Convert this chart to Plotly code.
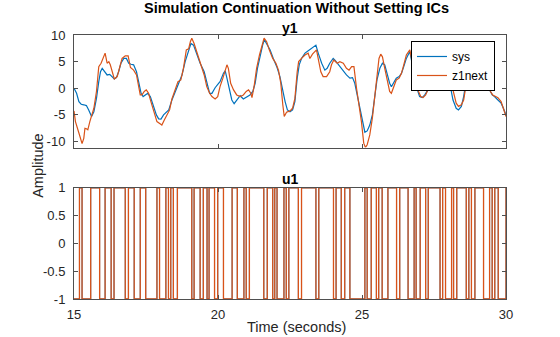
import plotly.graph_objects as go

# ---------------- data ----------------
sys_t = [15.00, 15.09, 15.17, 15.25, 15.34, 15.43, 15.51, 15.61, 15.69, 15.78, 15.86, 15.92, 15.98,
         16.07, 16.15, 16.24, 16.32, 16.40, 16.47, 16.55, 16.63, 16.73, 16.82, 16.90, 16.98, 17.07,
         17.17, 17.25, 17.33, 17.40, 17.48, 17.56, 17.65, 17.77, 17.86, 17.94, 18.02, 18.11, 18.20,
         18.29, 18.40, 18.52, 18.63, 18.75, 18.86, 18.98, 19.06, 19.15, 19.27, 19.38, 19.52, 19.62,
         19.71, 19.79, 19.90, 20.02, 20.07, 20.19, 20.25, 20.31, 20.40, 20.48, 20.56, 20.65, 20.77,
         20.88, 21.00, 21.11, 21.21, 21.29, 21.37, 21.46, 21.55, 21.61, 21.69, 21.81, 21.92, 22.04,
         22.15, 22.25, 22.33, 22.41, 22.50, 22.59, 22.67, 22.75, 22.82, 22.90, 23.02, 23.17, 23.25,
         23.33, 23.40, 23.48, 23.60, 23.71, 23.79, 23.88, 24.00, 24.06, 24.17, 24.29, 24.46, 24.58,
         24.67, 24.75, 24.83, 24.92, 25.02, 25.10, 25.18, 25.27, 25.36, 25.44, 25.52, 25.62, 25.71,
         25.79, 25.87, 25.96, 26.02, 26.10, 26.19, 26.29, 26.37, 26.45, 26.54, 26.66, 26.75, 26.83,
         26.91, 27.00, 27.09, 27.18, 27.29, 27.38, 27.46, 27.52, 27.64, 27.75, 27.87, 27.98, 28.07,
         28.16, 28.27, 28.35, 28.45, 28.53, 28.62, 28.68, 28.79, 28.97, 29.14, 29.25, 29.34, 29.43,
         29.52, 29.60, 29.72, 29.83, 29.91, 30.00]
sys_y = [0.0, -0.94, -2.5, -3.0, -3.1, -3.25, -4.06, -5.3, -4.4, -1.9, 1.25, 3.1, 3.75,
         3.1, 2.5, 2.6, 2.2, 1.75, 2.0, 3.1, 4.7, 5.6, 5.6, 4.7, 4.5, 4.4,
         3.1, 1.25, -0.94, -1.56, -1.25, -0.94, -1.56, -3.4, -5.0, -5.75, -5.8, -5.0, -4.56,
         -4.06, -2.2, -0.6, 0.94, 2.5, 5.0, 7.2, 8.4, 8.1, 6.25, 4.7, 3.1, 0.94,
         -0.94, -0.94, 0.1, 0.94, 1.25, 2.8, 3.25, 1.9, -0.6, -2.2, -2.9, -2.2, -1.4,
         -2.0, -1.56, -1.25, -0.6, 0.94, 3.75, 6.25, 8.1, 9.1, 8.4, 7.2, 5.6, 4.06,
         2.2, -0.6, -2.5, -4.06, -4.4, -4.06, -2.5, 1.9, 4.4, 5.6, 6.6, 7.2, 7.5,
         7.8, 8.1, 6.6, 4.7, 3.4, 3.75, 4.7, 5.6, 5.3, 4.5, 3.75, 2.5, 1.9,
         2.0, 0.94, -1.25, -3.75, -6.25, -8.25, -8.0, -6.9, -5.0, -1.9, 1.56, 3.75, 4.7,
         4.4, 2.5, 0.94, 0.3, 0.94, 1.9, 2.2, 2.8, 4.06, 5.6, 6.9, 4.4, 1.25,
         -0.3, -1.56, -1.75, -1.25, -0.3, 1.25, 2.5, 2.8, 5.0, 5.9, 5.0, 2.8, 0.0,
         -2.2, -3.75, -4.06, -3.4, -1.56, 1.56, 2.8, 5.6, 6.6, 5.0, 2.8, 1.25, -0.3,
         -1.25, -1.56, -2.2, -2.8, -3.75, -5.0]

z1_t = [15.00, 15.05, 15.17, 15.25, 15.28, 15.34, 15.38, 15.43, 15.48, 15.55, 15.63, 15.69, 15.78,
        15.86, 15.94, 16.03, 16.08, 16.15, 16.21, 16.26, 16.32, 16.40, 16.50, 16.59, 16.67, 16.78,
        16.88, 16.96, 17.07, 17.17, 17.25, 17.30, 17.36, 17.44, 17.51, 17.59, 17.67, 17.79, 17.88,
        18.00, 18.05, 18.14, 18.23, 18.32, 18.40, 18.52, 18.61, 18.71, 18.80, 18.90, 18.98, 19.04,
        19.09, 19.17, 19.29, 19.41, 19.52, 19.61, 19.71, 19.79, 19.90, 19.99, 20.07, 20.17, 20.25,
        20.31, 20.36, 20.44, 20.54, 20.65, 20.77, 20.88, 20.98, 21.06, 21.14, 21.18, 21.26, 21.34,
        21.44, 21.52, 21.60, 21.69, 21.78, 21.90, 22.01, 22.10, 22.18, 22.25, 22.30, 22.38, 22.50,
        22.59, 22.67, 22.75, 22.80, 22.90, 23.02, 23.13, 23.19, 23.28, 23.36, 23.42, 23.50, 23.57,
        23.65, 23.77, 23.88, 23.94, 24.02, 24.14, 24.23, 24.35, 24.46, 24.55, 24.64, 24.72, 24.81,
        24.90, 24.98, 25.06, 25.12, 25.18, 25.27, 25.36, 25.44, 25.52, 25.59, 25.65, 25.71, 25.79,
        25.87, 25.96, 26.02, 26.10, 26.19, 26.29, 26.37, 26.45, 26.54, 26.66, 26.74, 26.80, 26.86,
        26.94, 27.04, 27.12, 27.21, 27.29, 27.37, 27.44, 27.49, 27.60, 27.75, 27.90, 28.02, 28.10,
        28.18, 28.27, 28.35, 28.45, 28.53, 28.62, 28.68, 28.83, 28.99, 29.15, 29.29, 29.37, 29.46,
        29.54, 29.63, 29.72, 29.83, 29.91, 30.00]
z1_y = [-4.25, -6.25, -8.4, -10.1, -10.4, -9.4, -7.5, -7.6, -7.8, -6.25, -4.7, -3.75, -0.6,
        4.06, 4.7, 5.9, 6.6, 4.7, 5.0, 4.4, 3.4, 1.75, 2.2, 3.75, 5.6, 6.1,
        6.1, 3.9, 3.4, 2.5, 0.3, -1.25, -1.25, -0.6, -0.3, -0.94, -2.5, -4.4, -6.25,
        -6.7, -6.9, -5.9, -5.1, -4.06, -2.0, -0.3, 1.25, 1.56, 3.75, 7.2, 7.4, 8.75,
        9.4, 8.4, 6.25, 4.5, 2.5, 0.3, -0.94, -1.56, -2.0, -1.56, 0.3, 1.9, 3.1,
        4.4, 3.75, 0.94, -0.3, -1.25, -1.56, -1.25, -0.6, -0.3, -0.94, -1.75, 0.6, 3.75,
        6.25, 8.1, 9.4, 8.75, 7.2, 5.6, 4.7, 3.4, 0.94, -3.1, -5.3, -4.5, -4.25,
        -3.75, -1.9, 3.1, 5.0, 5.6, 6.25, 6.6, 5.6, 6.4, 6.9, 7.2, 5.0, 3.1,
        2.2, 2.2, 3.1, 4.4, 5.3, 4.7, 5.0, 4.7, 3.75, 3.4, 4.06, 4.06, 0.0,
        -3.1, -6.25, -10.3, -11.1, -10.6, -8.75, -5.6, -1.56, 2.8, 5.6, 6.4, 5.9, 3.75,
        1.9, -0.6, -0.94, 0.3, 1.56, 1.9, 2.8, 4.4, 6.25, 7.2, 5.0, 3.1, 1.56,
        -0.3, -1.56, -1.75, -1.25, -0.3, 0.94, 1.56, 3.1, 5.3, 6.25, 4.7, 2.8, 0.94,
        -1.25, -2.8, -3.4, -3.1, -2.2, 0.6, 2.8, 5.9, 6.9, 4.7, 2.5, 0.6, -0.6,
        -1.25, -1.56, -1.75, -2.5, -4.06, -5.3]

# u1: binary input (+1 / -1), starting at -1, switching at these times
u_start = -1
u_switch_t = [15.19, 15.28, 15.58, 15.89, 16.08, 16.29, 16.39, 16.78, 16.89, 17.09, 17.30, 17.49,
              17.88, 17.97, 18.19, 18.28, 18.36, 18.45, 18.59, 19.09, 19.17, 19.38, 19.49, 19.62,
              19.69, 19.88, 19.99, 20.19, 20.49, 20.67, 20.90, 20.98, 21.09, 21.59, 21.71, 21.90,
              21.97, 22.05, 22.29, 22.37, 22.46, 22.79, 22.90, 23.40, 23.50, 24.01, 24.10, 24.28,
              24.40, 24.58, 25.10, 25.18, 25.32, 25.50, 25.58, 25.70, 25.90, 26.20, 26.31, 26.60,
              26.81, 26.88, 27.02, 27.21, 27.30, 27.71, 27.80, 27.90, 28.11, 28.18, 28.29, 28.62,
              28.71, 28.80, 28.92, 29.22, 29.43, 29.52, 29.61, 29.73, 30.00]
t_start, t_end = 15, 30

x_ticks = [15, 20, 25, 30]
y1_ticks = [-10, -5, 0, 5, 10]
u1_ticks = [-1, -0.5, 0, 0.5, 1]
y1_ticktext = ["-10", "-5", "0", "5", "10"]
u1_ticktext = ["-1", "-0.5", "0", "0.5", "1"]

# ---------------- build step signal ----------------
u_x = [t_start] + list(u_switch_t)
u_y = [u_start]
for _ in u_switch_t:
    u_y.append(-u_y[-1])
if u_x[-1] < t_end:
    u_x.append(t_end)
    u_y.append(u_y[-1])

BLUE = "#0072BD"
ORANGE = "#D95319"
TXT = "#262626"
AX = "#4f4f4f"
FONT = "Liberation Sans, Arial, sans-serif"

fig = go.Figure()
fig.add_trace(go.Scatter(x=sys_t, y=sys_y, mode="lines", name="sys",
                         line=dict(color=BLUE, width=1.2), xaxis="x", yaxis="y"))
fig.add_trace(go.Scatter(x=z1_t, y=z1_y, mode="lines", name="z1next",
                         line=dict(color=ORANGE, width=1.2), xaxis="x", yaxis="y"))
fig.add_trace(go.Scatter(x=u_x, y=u_y, mode="lines", name="sys", showlegend=False,
                         line=dict(color=BLUE, width=1.0, shape="hv"), xaxis="x2", yaxis="y2"))
fig.add_trace(go.Scatter(x=u_x, y=u_y, mode="lines", name="z1next", showlegend=False,
                         line=dict(color=ORANGE, width=1.3, shape="hv"), xaxis="x2", yaxis="y2"))

H = 337
top_px, bot_px = 35, 299.3
plot_h = bot_px - top_px
def py(px):
    return (bot_px - px) / plot_h

axcommon = dict(showline=True, linecolor=AX, linewidth=1, mirror="ticks", ticks="inside",
                ticklen=4, tickcolor=AX, showgrid=False, zeroline=False,
                tickfont=dict(family=FONT, size=13, color=TXT))

fig.update_layout(
    width=560, height=H,
    margin=dict(l=74, r=54, t=top_px, b=H - bot_px, pad=0),
    paper_bgcolor="white", plot_bgcolor="white",
    font=dict(family=FONT, color=TXT),
    xaxis=dict(domain=[0, 1], range=[t_start, t_end], tickvals=x_ticks, showticklabels=False,
               anchor="y", **axcommon),
    yaxis=dict(domain=[py(147.7), 1], range=[-11.13, 10], tickvals=y1_ticks, ticktext=y1_ticktext,
               anchor="x", ticklabelstandoff=5, **axcommon),
    xaxis2=dict(domain=[0, 1], range=[t_start, t_end], tickvals=x_ticks, anchor="y2",
                ticklabelstandoff=3, **axcommon),
    yaxis2=dict(domain=[0, py(188)], range=[-1, 1], tickvals=u1_ticks, ticktext=u1_ticktext,
                anchor="x2", ticklabelstandoff=5, **axcommon),
    showlegend=True,
    legend=dict(x=(495 - 74) / 432, y=py(41), xanchor="right", yanchor="top",
                bgcolor="white", bordercolor="#000000", borderwidth=1,
                font=dict(family=FONT, size=12, color="#000000"), tracegroupgap=0,
                itemwidth=30),
    annotations=[
        dict(text="<b>Simulation Continuation Without Setting ICs</b>", xref="paper", yref="paper",
             x=(296 - 74) / 432, y=py(7.5), xanchor="center", yanchor="middle", showarrow=False,
             font=dict(family=FONT, size=14.5, color="#000000")),
        dict(text="<b>y1</b>", xref="paper", yref="paper", x=0.5, y=py(27.5),
             xanchor="center", yanchor="middle", showarrow=False,
             font=dict(family=FONT, size=14, color="#000000")),
        dict(text="<b>u1</b>", xref="paper", yref="paper", x=0.5, y=py(179),
             xanchor="center", yanchor="middle", showarrow=False,
             font=dict(family=FONT, size=14, color="#000000")),
        dict(text="Amplitude", xref="paper", yref="paper", x=(38 - 74) / 432, y=py(166),
             xanchor="center", yanchor="middle", textangle=-90, showarrow=False,
             font=dict(family=FONT, size=14.5, color=TXT)),
        dict(text="Time (seconds)", xref="paper", yref="paper", x=(296 - 74) / 432, y=py(327),
             xanchor="center", yanchor="middle", showarrow=False,
             font=dict(family=FONT, size=14.5, color=TXT)),
    ],
)

fig.write_html("out.html")
